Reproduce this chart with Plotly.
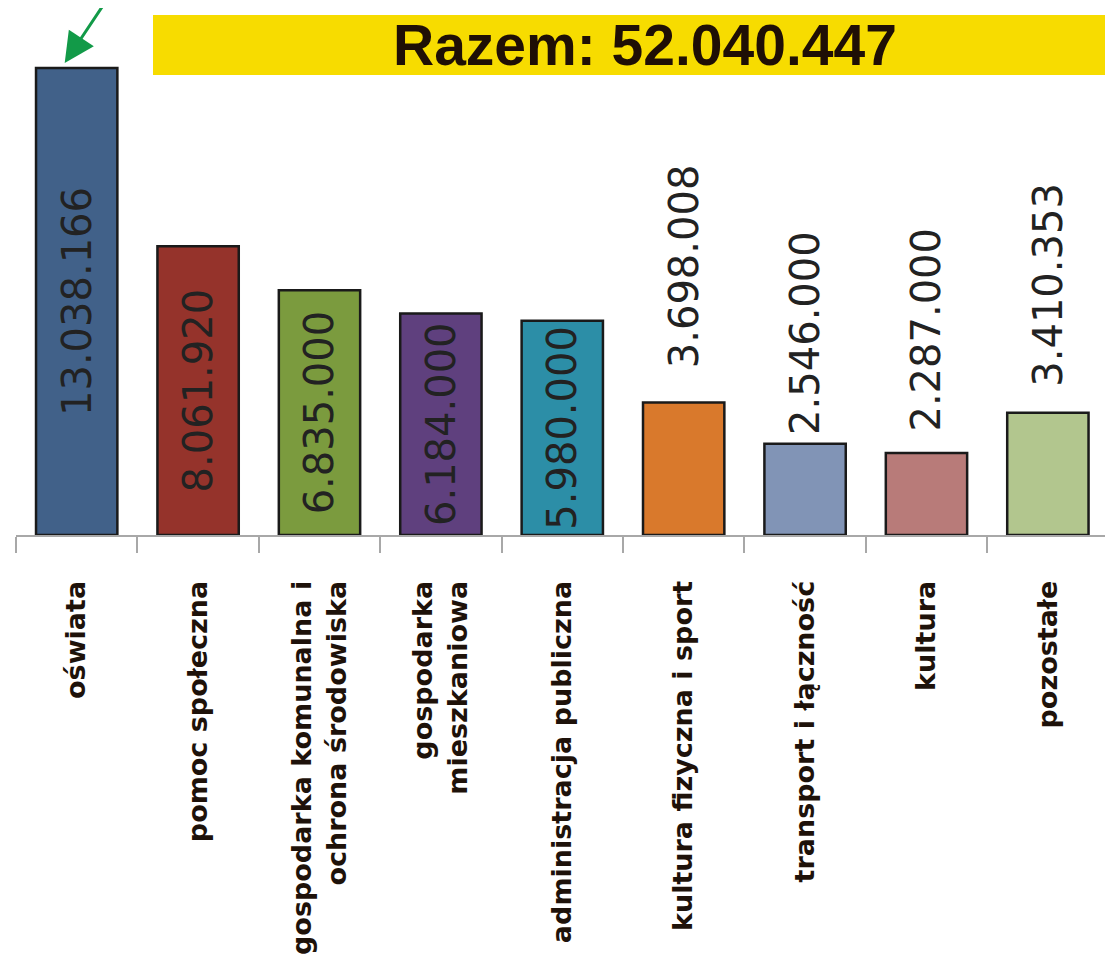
import plotly.graph_objects as go

categories = ["oświata", "pomoc społeczna", "gospodarka komunalna i ochrona środowiska",
              "gospodarka mieszkaniowa", "administracja publiczna", "kultura fizyczna i sport",
              "transport i łączność", "kultura", "pozostałe"]
tick_labels = ["oświata", "pomoc społeczna", "gospodarka komunalna i<br>ochrona środowiska",
               "gospodarka<br>mieszkaniowa", "administracja publiczna", "kultura fizyczna i sport",
               "transport i łączność", "kultura", "pozostałe"]
values = [13038166, 8061920, 6835000, 6184000, 5980000, 3698008, 2546000, 2287000, 3410353]
colors = ["#416189", "#95332b", "#7b9b3e", "#5f407e", "#2c8ea7", "#d9792c", "#8194b6", "#b87b79", "#b2c68e"]
label_inside = [True, True, True, True, True, False, False, False, False]
outside_gap = [0, 0, 0, 0, 0, 32, 7, 20, 24]

def fmt(v):
    return f"{v:,}".replace(",", ".")

total = sum(values)
texts = [fmt(v) for v in values]

PLOT_H = 527
PLOT_W = 1095

fig = go.Figure()
fig.add_trace(go.Bar(
    x=categories, y=values,
    marker=dict(color=colors, line=dict(color="#1a1a1a", width=2.5)),
    width=0.67,
    text=[t if ins else "" for t, ins in zip(texts, label_inside)],
    textposition=["inside" if ins else "none" for ins in label_inside],
    insidetextanchor="middle",
    textangle=-90,
    constraintext="none",
    insidetextfont=dict(family="DejaVu Sans", size=40, color="#222222"),
    hoverinfo="skip",
))

annotations = []
for c, v, t, ins, g in zip(categories, values, texts, label_inside, outside_gap):
    if not ins:
        annotations.append(dict(x=c, y=v, xref="x", yref="y", text=t, showarrow=False,
                                textangle=-90, yanchor="bottom", xanchor="center", yshift=g,
                                font=dict(family="DejaVu Sans", size=40, color="#222222")))

annotations.append(dict(x=(645 - 16) / PLOT_W, y=1 - 37 / PLOT_H, xref="paper", yref="paper",
                        text=f"<b>Razem: {fmt(total)}</b>", showarrow=False,
                        font=dict(family="Liberation Sans", size=57, color="#1f0f05"),
                        xanchor="center", yanchor="middle"))

annotations.append(dict(x=categories[0], y=values[0], xref="x", yref="y", text="",
                        showarrow=True, ax=40, ay=-68, xshift=-12, yshift=5,
                        arrowcolor="#129a48", arrowwidth=3, arrowhead=2, arrowsize=2.0, standoff=0))

fig.update_layout(
    width=1105, height=951,
    margin=dict(l=8, r=2, t=0, b=951 - PLOT_H),
    plot_bgcolor="white", paper_bgcolor="white",
    showlegend=False,
    annotations=annotations,
    shapes=[dict(type="rect", xref="paper", yref="paper",
                 x0=(153 - 16) / PLOT_W, x1=1.01, y0=1 - 67 / PLOT_H, y1=1 - 7 / PLOT_H,
                 fillcolor="#f7dc00", line=dict(width=0), layer="below")],
    xaxis=dict(
        tickmode="array", tickvals=categories, ticktext=tick_labels,
        tickangle=-90, tickson="boundaries", ticks="outside", ticklen=16,
        tickcolor="#a8a8a8", tickwidth=2,
        showline=True, linecolor="#a8a8a8", linewidth=2,
        tickfont=dict(family="DejaVu Sans", size=27, color="#1e120a", weight="bold"),
        ticklabelstandoff=33,
        showgrid=False, zeroline=False, range=[-0.5, 8.52],
    ),
    yaxis=dict(range=[0, PLOT_H / 35.82 * 1e6], showgrid=False, zeroline=False, showticklabels=False,
               showline=False, ticks=""),
)

fig.write_html("out.html")
